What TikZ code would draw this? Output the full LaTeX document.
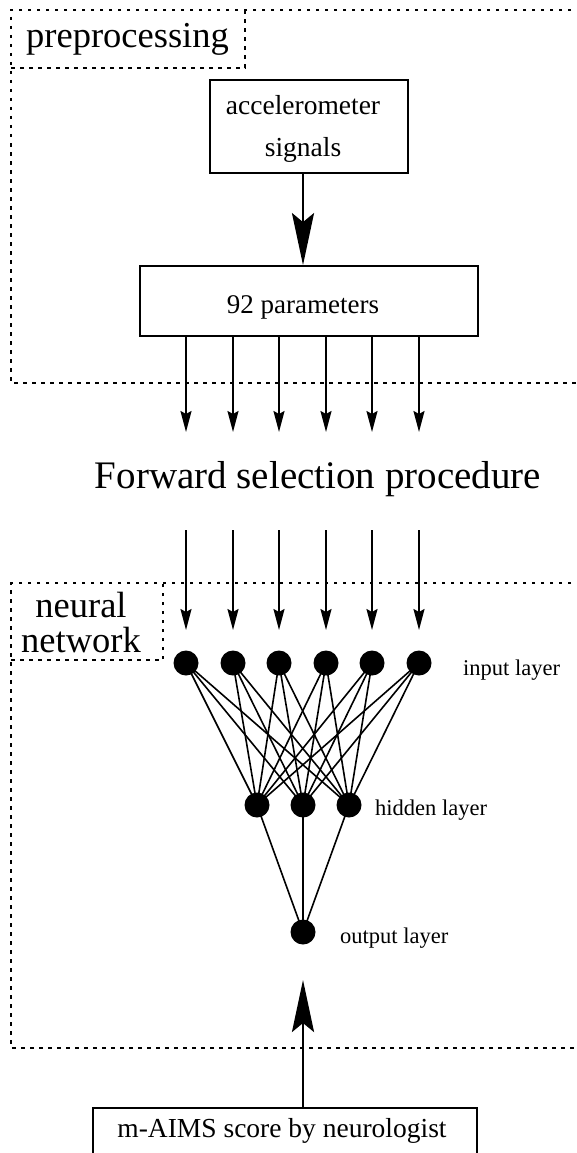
\documentclass[tikz,border=0pt]{standalone}
\usepackage{fontspec}
\setmainfont{Liberation Serif}
\usetikzlibrary{arrows.meta}
\begin{document}
\begin{tikzpicture}[x=1pt,y=-1pt,
  frame/.style={line width=1.6pt, dash pattern=on 3.5pt off 5.5pt},
  boxnode/.style={draw, line width=1.8pt, inner sep=0pt},
  txt/.style={anchor=base, inner sep=0pt},
  neuron/.style={circle, fill=black, minimum size=25pt, inner sep=0pt},
  link/.style={line width=1.6pt},
  bigarrow/.style={line width=2.8pt, -{Stealth[length=52pt,width=22pt,inset=9pt]}},
  smallarrow/.style={line width=2pt, -{Stealth[length=21pt,width=11pt,inset=3pt]}},
  layerlbl/.style={anchor=base west, inner sep=0pt, font=\fontsize{22.5}{26}\selectfont}
]
\useasboundingbox (0,0) rectangle (576,1153);

% preprocessing frame
\draw[frame] (580,10) -- (11,10) -- (11,383) -- (580,383);
\draw[frame] (11,68) -- (245,68) -- (245,10);
\node[txt, font=\fontsize{36.5}{40}\selectfont] (pre) at (127.5,48) {preprocessing};

% accelerometer box
\node[boxnode, minimum width=198pt, minimum height=93pt] (acc) at (309,126.5) {};
\node[txt, font=\fontsize{27.5}{30}\selectfont] (acct1) at (303,115) {accelerometer};
\node[txt, font=\fontsize{27.5}{30}\selectfont] (acct2) at (303,157) {signals};

% 92 parameters box
\node[boxnode, minimum width=338pt, minimum height=70pt] (par) at (309,301) {};
\node[txt, font=\fontsize{27}{30}\selectfont] (part) at (303,313) {92 parameters};

\draw[bigarrow] (acct2 |- acc.south) -- (acct2 |- par.north);

% forward selection
\node[txt, font=\fontsize{39}{43}\selectfont] (fwd) at (318,488) {Forward selection procedure};

% neural network frame
\draw[frame] (580,583) -- (11,583) -- (11,1048) -- (580,1048);
\draw[frame] (11,660) -- (163,660) -- (163,583);
\node[txt, font=\fontsize{36.5}{40}\selectfont] (nn1) at (81,617) {neural};
\node[txt, font=\fontsize{36.5}{40}\selectfont] (nn2) at (81,652) {network};

% input neurons
\foreach \i/\x in {1/186,2/233,3/279,4/326,5/372,6/419}{
  \node[neuron] (in\i) at (\x,663) {};
  \coordinate (top\i) at (\x,530);
  \draw[smallarrow] (par.south -| in\i) -- (\x,432);
  \draw[smallarrow] (top\i) -- (\x,630);
}
\foreach \i/\x in {1/257,2/303,3/349}{
  \node[neuron] (h\i) at (\x,805) {};
}
\node[neuron] (out) at (303,932) {};

\foreach \i in {1,...,6}{
  \foreach \j in {1,2,3}{
    \draw[link] (in\i.center) -- (h\j.center);
  }
}
\foreach \j in {1,2,3}{
  \draw[link] (h\j.center) -- (out.center);
}

\node[layerlbl] (lin) at (463,675) {input layer};
\node[layerlbl] (lhid) at (375,815) {hidden layer};
\node[layerlbl] (lout) at (340,943) {output layer};

% m-AIMS box
\node[boxnode, minimum width=384pt, minimum height=80pt, anchor=north] (aims) at (285,1107) {};
\node[txt, font=\fontsize{27.5}{30}\selectfont] (aimst) at (282,1137) {m-AIMS score by neurologist};
\draw[bigarrow] (aims.north -| out) -- (303,980);
\end{tikzpicture}
\end{document}
